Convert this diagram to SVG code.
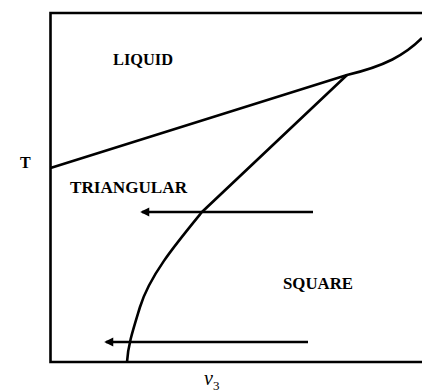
<svg xmlns="http://www.w3.org/2000/svg" width="422" height="392" viewBox="0 0 422 392">
<style>
.ln{fill:none;stroke:#000;stroke-width:2.6;stroke-linecap:butt}
.lbl{font-family:"Liberation Serif","Times New Roman",serif;font-weight:bold;font-size:16px;fill:#000}
</style>
<defs>
<marker id="ah" viewBox="0 0 10 10" refX="8" refY="5" markerWidth="5" markerHeight="3.5" orient="auto" markerUnits="strokeWidth">
<path d="M0,0 L10,5 L0,10 Z" fill="#000"/>
</marker>
</defs>
<rect width="422" height="392" fill="#fff"/>
<g id="axes">
<path class="ln" d="M422,13 L50.5,13 L50.5,362 L422,362"/>
</g>
<g id="connectors">
<path id="liquid-boundary" class="ln" d="M50.5,168 L347,75 C385,66 405,55 422,38"/>
<path id="tri-square-boundary" class="ln" d="M347,75 L202,212 C175,245 150,275 140,307 C133,330 128,345 127,362"/>
<path id="arrow-upper" class="ln" d="M313,212 L142,212" marker-end="url(#ah)"/>
<path id="arrow-lower" class="ln" d="M308,342 L106,342" marker-end="url(#ah)"/>
</g>
<g id="label-liquid"><text class="lbl" x="113" y="65" textLength="60" lengthAdjust="spacingAndGlyphs">LIQUID</text></g>
<g id="label-triangular"><text class="lbl" x="70" y="193" textLength="117" lengthAdjust="spacingAndGlyphs">TRIANGULAR</text></g>
<g id="label-square"><text class="lbl" x="283" y="289" textLength="70" lengthAdjust="spacingAndGlyphs">SQUARE</text></g>
<g id="label-T"><text class="lbl" x="20" y="168" font-size="17">T</text></g>
<g id="label-v3"><text x="204" y="385" font-family="Liberation Serif, serif" font-style="italic" font-size="20">v<tspan font-style="normal" font-size="13" dy="5">3</tspan></text></g>
</svg>
